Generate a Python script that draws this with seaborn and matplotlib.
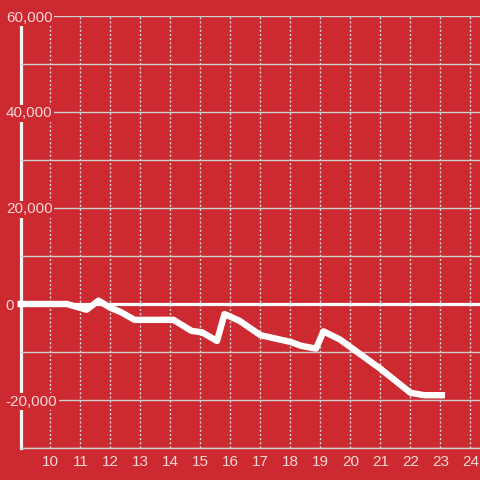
import numpy as np
import pandas as pd
import matplotlib
matplotlib.use('Agg')
import matplotlib.pyplot as plt
from matplotlib.ticker import FixedLocator, StrMethodFormatter
import seaborn as sns

## values
hours = [8.9, 10.55, 11.2, 11.6, 12.0, 12.35, 12.8, 14.1, 14.7, 15.05, 15.55,
         15.8, 16.3, 17.0, 18.0, 18.35, 18.85, 19.1, 19.65, 21.0, 22.0, 22.45, 23.15]
change = [0, 0, -1200, 700, -800, -1700, -3300, -3300, -5600, -5900, -7700,
          -2100, -3500, -6500, -7900, -8700, -9300, -5700, -7400, -13500, -18500, -19000, -19000]

y_major = [-20000, 0, 20000, 40000, 60000]
y_minor = [-30000, -10000, 10000, 30000, 50000]
x_ticks = list(range(10, 25))

bg = '#cc2a30'
txt = '#f6d6d6'

sns.set_style('white', rc={'axes.facecolor': bg, 'figure.facecolor': bg})
plt.rcParams['font.family'] = ['Liberation Sans', 'DejaVu Sans']
plt.rcParams['axes.unicode_minus'] = False

df = pd.DataFrame({'hour': hours, 'change': change})

fig = plt.figure(figsize=(4.8, 4.8), dpi=100)
ax = fig.add_axes([20.5/480, 32/480, 1 - 20.5/480, 432/480])
ax.set_axisbelow(False)

sns.lineplot(data=df, x='hour', y='change', ax=ax, color='white', lw=4.6,
             solid_joinstyle='round', solid_capstyle='butt', zorder=3, clip_on=False)
ax.axhline(0, color='white', lw=2.3, zorder=2.6)

ax.set_xlim(9, 24.317)
ax.set_ylim(-30000, 60000)

ax.yaxis.set_major_locator(FixedLocator(y_major))
ax.yaxis.set_minor_locator(FixedLocator(y_minor))
ax.yaxis.set_major_formatter(StrMethodFormatter('{x:,.0f}'))
ax.set_xticks(x_ticks)

ax.grid(axis='y', which='both', color='#cfcfcf', lw=1, ls='-')
ax.grid(axis='x', which='major', color='#d8d8d8', lw=1, ls=(0, (1.5, 1.5)))

ax.tick_params(axis='y', which='both', length=0, pad=10.6, labelsize=11, labelcolor=txt)
ax.tick_params(axis='x', length=0, pad=5, labelsize=11, labelcolor=txt)
for lab in ax.get_yticklabels():
    lab.set_horizontalalignment('left')
    lab.set_bbox(dict(facecolor=bg, edgecolor='none', pad=1.2))

for s in ['top', 'right']:
    ax.spines[s].set_visible(False)
ax.spines['left'].set_color('#f4f4f4')
ax.spines['left'].set_linewidth(2.3)
ax.spines['left'].set_zorder(2.4)
ax.spines['bottom'].set_color('#cfcfcf')
ax.spines['bottom'].set_linewidth(1)

ax.set_xlabel('')
ax.set_ylabel('')

fig.savefig('out.png', dpi=100, facecolor=bg)
